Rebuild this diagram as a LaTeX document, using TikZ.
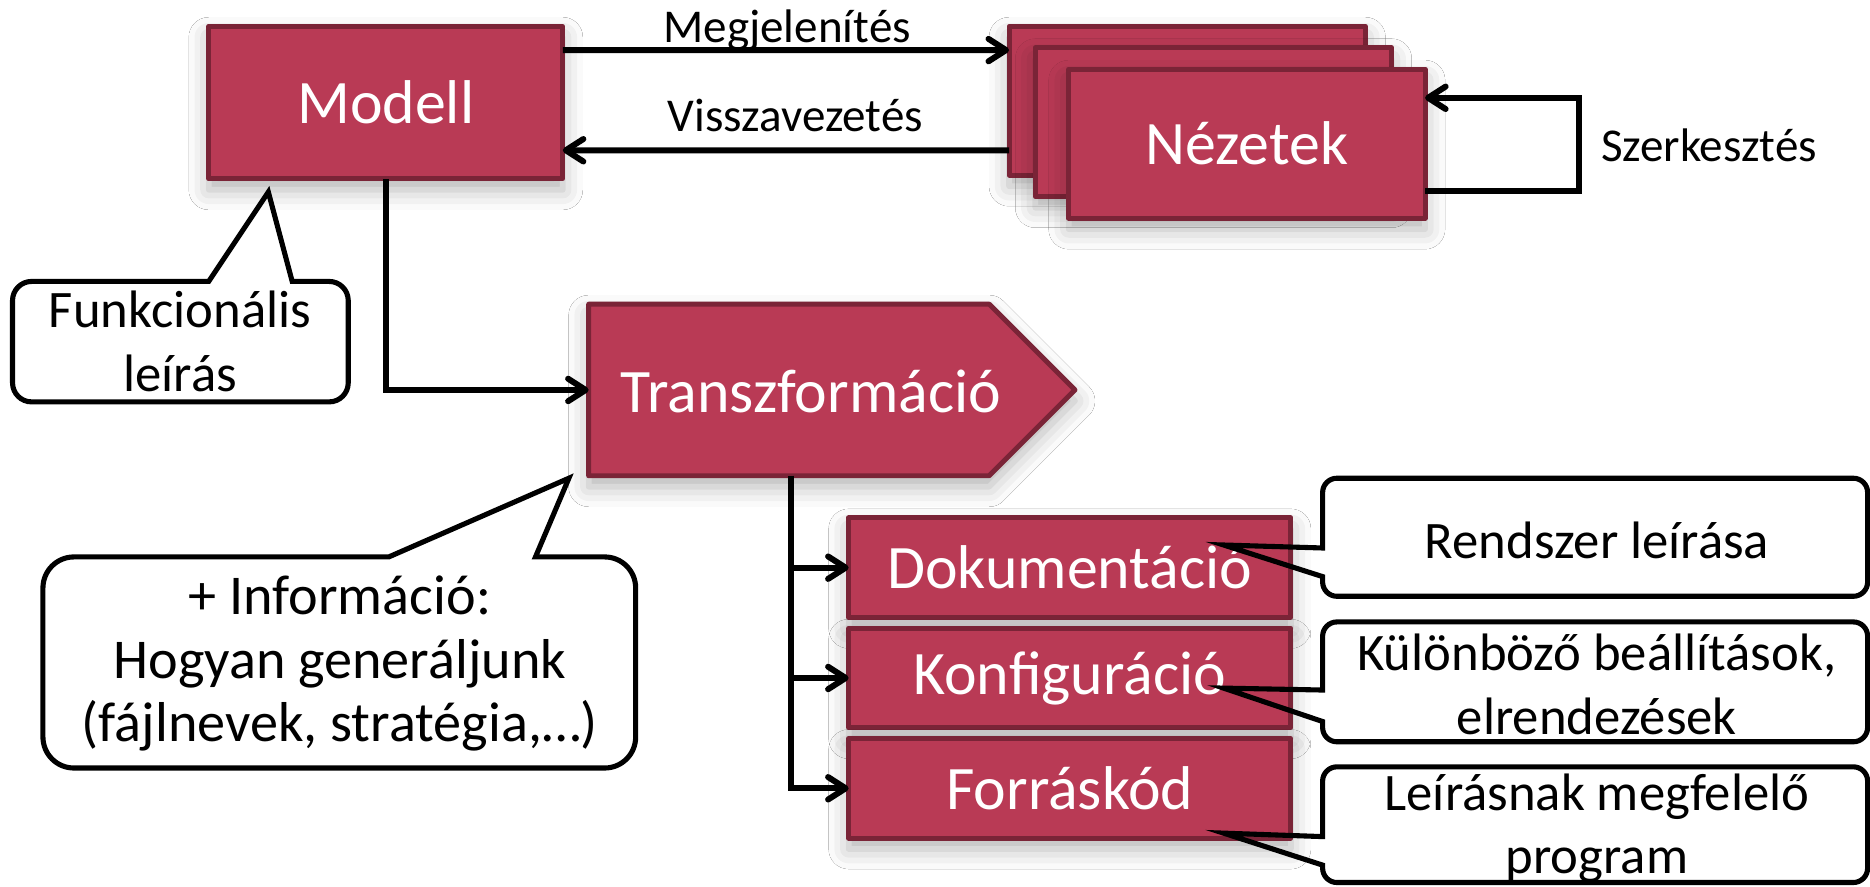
\documentclass[tikz,border=0pt]{standalone}
\usepackage{fontspec}
\setmainfont{Carlito}
\usetikzlibrary{arrows.meta,calc,shapes.symbols,shadows.blur}
\definecolor{boxfill}{RGB}{185,58,85}
\definecolor{boxline}{RGB}{122,36,55}
\def\upx{0.011926cm}

\begin{document}
\begin{tikzpicture}[x=\upx,y=\upx,
  box/.style={draw=boxline, fill=boxfill, line width=1.4pt, line join=round, text=white,
    font=\fontsize{17.6}{21}\selectfont, inner sep=0pt, outer sep=0pt,
    blur shadow={shadow xshift=0mm, shadow yshift=-1.1mm,
      shadow blur radius=2mm, shadow opacity=30}},
  conn/.style={line width=1.7pt, -{Straight Barb[length=5pt,width=6.4pt,round]}},
  lbl/.style={font=\fontsize{13.4}{16}\selectfont, inner sep=0pt},
  callout/.style={line width=1.45pt},
  ctext/.style={font=\fontsize{15}{18.2}\selectfont, align=center, inner sep=0pt}]

\path[use as bounding box, fill=white] (0,0) rectangle (1568,743);

% model and the stacked views
\node[box, minimum width=3.542cm, minimum height=1.527cm] (modell) at (323.5,657) {Modell};
\node[box, minimum width=3.566cm, minimum height=1.491cm] (nez1) at (995.5,658.5) {};
\node[box, minimum width=3.566cm, minimum height=1.491cm] (nez2) at (1017.5,640.5) {};
\node[box, minimum width=3.566cm, minimum height=1.491cm] (nez3) at (1045.5,622.5) {Nézetek};

\draw[conn] ($(modell.north east)+(0,-20)$) -- ($(nez1.north west)+(0,-20)$);
\node[lbl, anchor=base] (megj) at (660,707) {Megjelenítés};
\draw[conn] ($(nez1.north west)+(0,-104)$) -- ($(modell.north east)+(0,-104)$);
\node[lbl, anchor=base] (vissza) at (667,632.6) {Visszavezetés};

\draw[conn] ($(nez3.south east)+(0,23)$) -- ++(129,0) |- ($(nez3.north east)+(0,-24)$);
\node[lbl, anchor=base] (szerk) at (1433,607.4) {Szerkesztés};

% transformation
\node[box, signal, signal to=east, signal pointer angle=90,
  minimum width=4.866cm, minimum height=1.717cm] (transz) at (661.5,416) {};
\node[text=white, font=\fontsize{17.6}{21}\selectfont, inner sep=0pt] (transztext) at (680,415) {Transzformáció};
\draw[conn] (modell.south) |- (transz.west);

% generated artefacts
\node[box, minimum width=4.425cm, minimum height=0.996cm] (dok) at (897,267) {Dokumentáció};
\node[box, minimum width=4.425cm, minimum height=0.996cm] (konf) at (897,174.5) {Konfiguráció};
\node[box, minimum width=4.425cm, minimum height=0.996cm] (forr) at (897,82) {Forráskód};

\coordinate (trunk) at (663,344);
\draw[conn] (trunk) |- (dok.west);
\draw[conn] (trunk) |- (konf.west);
\draw[conn] (trunk) |- (forr.west);

% callouts
\draw[callout] (26.5,507) -- (175,507) -- (225,582) -- (245,507) -- (276,507)
  arc[start angle=90,end angle=0,radius=16] -- (292,422)
  arc[start angle=0,end angle=-90,radius=16] -- (26.5,406)
  arc[start angle=-90,end angle=-180,radius=16] -- (10.5,491)
  arc[start angle=180,end angle=90,radius=16] -- cycle;
\node[ctext] (funk) at (151,457) {Funkcionális\\leírás};

\draw[callout] (62,276) -- (326,276) -- (477,342) -- (449,276) -- (507,276)
  arc[start angle=90,end angle=0,radius=26] -- (533,125)
  arc[start angle=0,end angle=-90,radius=26] -- (62,99)
  arc[start angle=-90,end angle=-180,radius=26] -- (36,250)
  arc[start angle=180,end angle=90,radius=26] -- cycle;
\node[ctext, font=\fontsize{16}{18.1}\selectfont] (info) at (285,186.5)
  {+ Információ:\\Hogyan generáljunk\\(fájlnevek, stratégia,…)};

\draw[callout] (1121,342) -- (1554,342)
  arc[start angle=90,end angle=0,radius=12] -- (1566,255)
  arc[start angle=0,end angle=-90,radius=12] -- (1121,243)
  arc[start angle=-90,end angle=-180,radius=12] -- (1109,259.5) -- (1026,286) -- (1109,283.5) -- (1109,330)
  arc[start angle=180,end angle=90,radius=12] -- cycle;
\node[ctext] (rend) at (1339,290) {Rendszer leírása};

\draw[callout] (1121,221.5) -- (1554,221.5)
  arc[start angle=90,end angle=0,radius=12] -- (1566,133)
  arc[start angle=0,end angle=-90,radius=12] -- (1121,121)
  arc[start angle=-90,end angle=-180,radius=12] -- (1109,138) -- (1026,166) -- (1109,164.4) -- (1109,209.5)
  arc[start angle=180,end angle=90,radius=12] -- cycle;
\node[ctext] (beall) at (1339,169) {Különböző beállítások,\\elrendezések};

\draw[callout] (1121,100) -- (1554,100)
  arc[start angle=90,end angle=0,radius=12] -- (1566,15)
  arc[start angle=0,end angle=-90,radius=12] -- (1121,3)
  arc[start angle=-90,end angle=-180,radius=12] -- (1109,17.6) -- (1026,44.4) -- (1109,41.5) -- (1109,88)
  arc[start angle=180,end angle=90,radius=12] -- cycle;
\node[ctext] (prog) at (1339,48.5) {Leírásnak megfelelő\\program};

\end{tikzpicture}
\end{document}
